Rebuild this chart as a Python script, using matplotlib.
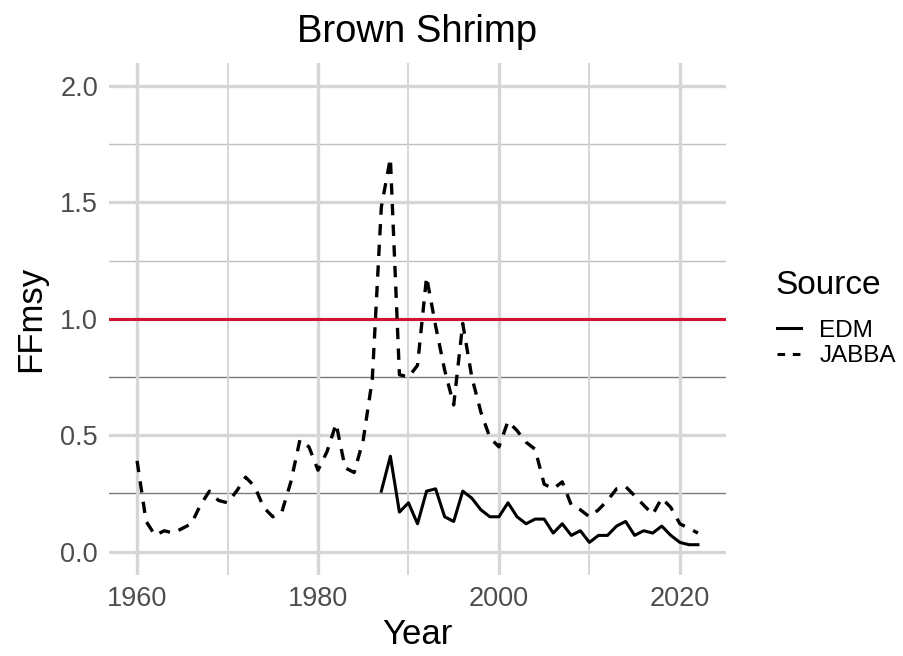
import numpy as np
import matplotlib
matplotlib.use("Agg")
import matplotlib.pyplot as plt
from matplotlib.lines import Line2D

plt.rcParams['font.family'] = ['Liberation Sans', 'DejaVu Sans']

# JABBA F/Fmsy, 1960-2022
jabba_years = list(range(1960, 2023))
jabba_vals = [0.39, 0.13, 0.07, 0.09, 0.08, 0.10, 0.12, 0.20, 0.26, 0.22,
              0.21, 0.26, 0.32, 0.28, 0.19, 0.15, 0.17, 0.30, 0.48, 0.45,
              0.35, 0.43, 0.55, 0.36, 0.34, 0.48, 0.74, 1.48, 1.69, 0.76,
              0.75, 0.80, 1.18, 0.97, 0.78, 0.63, 0.98, 0.75, 0.60, 0.49,
              0.45, 0.56, 0.52, 0.47, 0.44, 0.29, 0.27, 0.30, 0.20, 0.18,
              0.15, 0.18, 0.22, 0.27, 0.28, 0.24, 0.20, 0.16, 0.23, 0.19,
              0.12, 0.10, 0.08]

# EDM F/Fmsy, 1987-2022
edm_years = list(range(1987, 2023))
edm_vals = [0.26, 0.41, 0.17, 0.21, 0.12, 0.26, 0.27, 0.15, 0.13, 0.26,
            0.23, 0.18, 0.15, 0.15, 0.21, 0.15, 0.12, 0.14, 0.14, 0.08,
            0.12, 0.07, 0.09, 0.04, 0.07, 0.07, 0.11, 0.13, 0.07, 0.09,
            0.08, 0.11, 0.07, 0.04, 0.03, 0.03]

fig = plt.figure(figsize=(9.04, 6.56), dpi=100)
ax = fig.add_axes([0.1206, 0.1235, 0.6825, 0.781])

# grid
for yv in [0, 0.5, 1.0, 1.5, 2.0]:
    ax.axhline(yv, color='#d6d6d6', lw=2.4, zorder=0)
for yv in [0.25, 0.75]:
    ax.axhline(yv, color='#7a7a7a', lw=1.0, zorder=0)
for yv in [1.25, 1.75]:
    ax.axhline(yv, color='#c0c0c0', lw=1.0, zorder=0)
for xv in [1960, 1980, 2000, 2020]:
    ax.axvline(xv, color='#d6d6d6', lw=2.4, zorder=0)
for xv in [1970, 1990, 2010]:
    ax.axvline(xv, color='#d6d6d6', lw=1.4, zorder=0)

ax.axhline(1.0, color='#d2122e', lw=2.2, zorder=1)

ax.plot(edm_years, edm_vals, color='black', lw=2.2, zorder=3)
ax.plot(jabba_years, jabba_vals, color='black', lw=2.4, dashes=(3.4, 2.8), zorder=3)

ax.set_xlim(1956.9, 2025.1)
ax.set_ylim(-0.1, 2.1)
ax.set_xticks([1960, 1980, 2000, 2020])
ax.set_yticks([0.0, 0.5, 1.0, 1.5, 2.0])
ax.set_yticklabels(['0.0', '0.5', '1.0', '1.5', '2.0'])
ax.tick_params(length=0, labelsize=19.5, colors='#4d4d4d', pad=8)
for s in ax.spines.values():
    s.set_visible(False)

ax.set_title('Brown Shrimp', fontsize=27.5, pad=15)
ax.set_xlabel('Year', fontsize=25, labelpad=4)
ax.set_ylabel('FFmsy', fontsize=25, labelpad=9)

fig.text(775 / 904, 1 - 285 / 656, 'Source', fontsize=24, ha='left', va='center')
handles = [Line2D([], [], color='black', lw=2.2),
           Line2D([], [], color='black', lw=2.2, dashes=(2.5, 2.5))]
leg = fig.legend(handles, ['EDM', 'JABBA'],
                 loc='center left', bbox_to_anchor=(0.835, 1 - 343.5 / 656),
                 frameon=False, fontsize=17.5,
                 handlelength=1.0, handletextpad=0.75, labelspacing=0.15)

fig.savefig('out.png', dpi=100)
